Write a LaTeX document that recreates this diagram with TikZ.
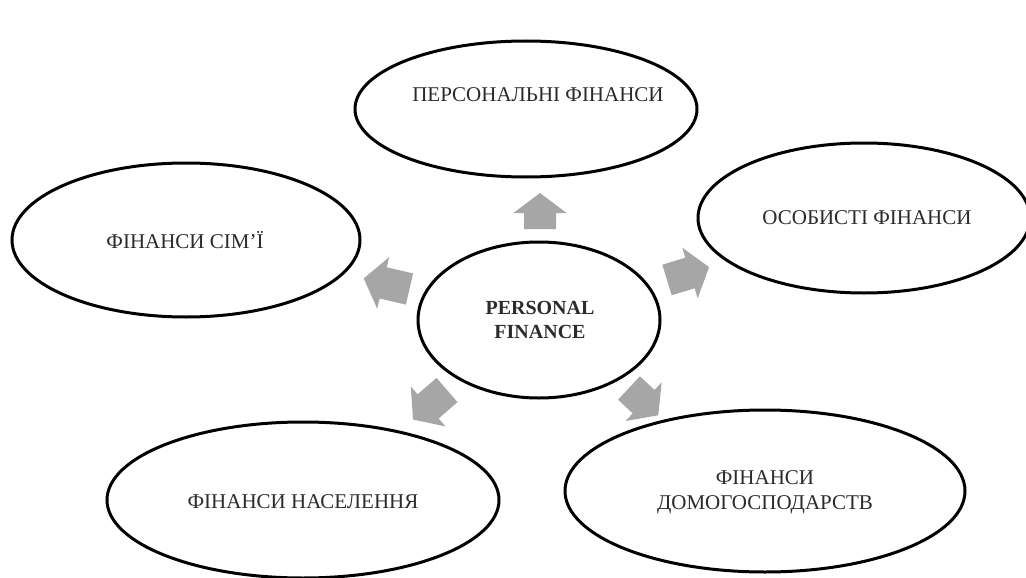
\documentclass[tikz,border=0pt]{standalone}
\usepackage{fontspec}
\setmainfont{Liberation Serif}
\usetikzlibrary{shapes.geometric}
\definecolor{arrowgray}{HTML}{A6A6A6}
\definecolor{txtc}{HTML}{2B2B2B}
\newcommand{\blockarrow}[4]{%
  \fill[arrowgray, shift={(#1,#2)}, rotate=#3]
    (0,16) -- ({#4-20},16) -- ({#4-20},26.5) -- (#4,0) -- ({#4-20},-26.5) -- ({#4-20},-16) -- (0,-16) -- cycle;}
\begin{document}
\begin{tikzpicture}[x=1pt,y=-1pt,
  ell/.style={draw=black, line width=3pt, ellipse, fill=white, inner sep=0pt},
  lbl/.style={text=txtc, font=\fontsize{21}{24}\selectfont, align=center, inner sep=0pt}]
\useasboundingbox (0,0) rectangle (1026,578);
\fill[white] (0,0) rectangle (1026,578);
% ellipses
\node[ell, minimum width=342pt, minimum height=136pt] (top) at (526,109) {};
\node[ell, minimum width=348pt, minimum height=154pt] (left) at (186,240) {};
\node[ell, minimum width=332pt, minimum height=150pt] (right) at (864,218) {};
\node[ell, minimum width=242pt, minimum height=156pt] (center) at (539,320) {};
\node[ell, minimum width=392pt, minimum height=156pt] (bl) at (303,500) {};
\node[ell, minimum width=400pt, minimum height=162pt] (br) at (765,491) {};
% labels
\node[lbl] (topt) at (538,95) {ПЕРСОНАЛЬНІ ФІНАНСИ};
\node[lbl] (leftt) at (185,240) {ФІНАНСИ СІМ'Ї};
\node[lbl] (rightt) at (867,218) {ОСОБИСТІ ФІНАНСИ};
\node[lbl, font=\fontsize{20}{24}\selectfont\bfseries] (centert) at (540,320) {PERSONAL\\FINANCE};
\node[lbl] (blt) at (303,502) {ФІНАНСИ НАСЕЛЕННЯ};
\node[lbl, font=\fontsize{21}{25}\selectfont] (brt) at (765,492) {ФІНАНСИ\\ДОМОГОСПОДАРСТВ};
% block arrows
\blockarrow{540}{229}{90}{36}
\blockarrow{667}{280}{17}{44}
\blockarrow{409.5}{289}{167}{47}
\blockarrow{447}{390}{221}{45}
\blockarrow{629}{388}{-43}{40}
\end{tikzpicture}
\end{document}
